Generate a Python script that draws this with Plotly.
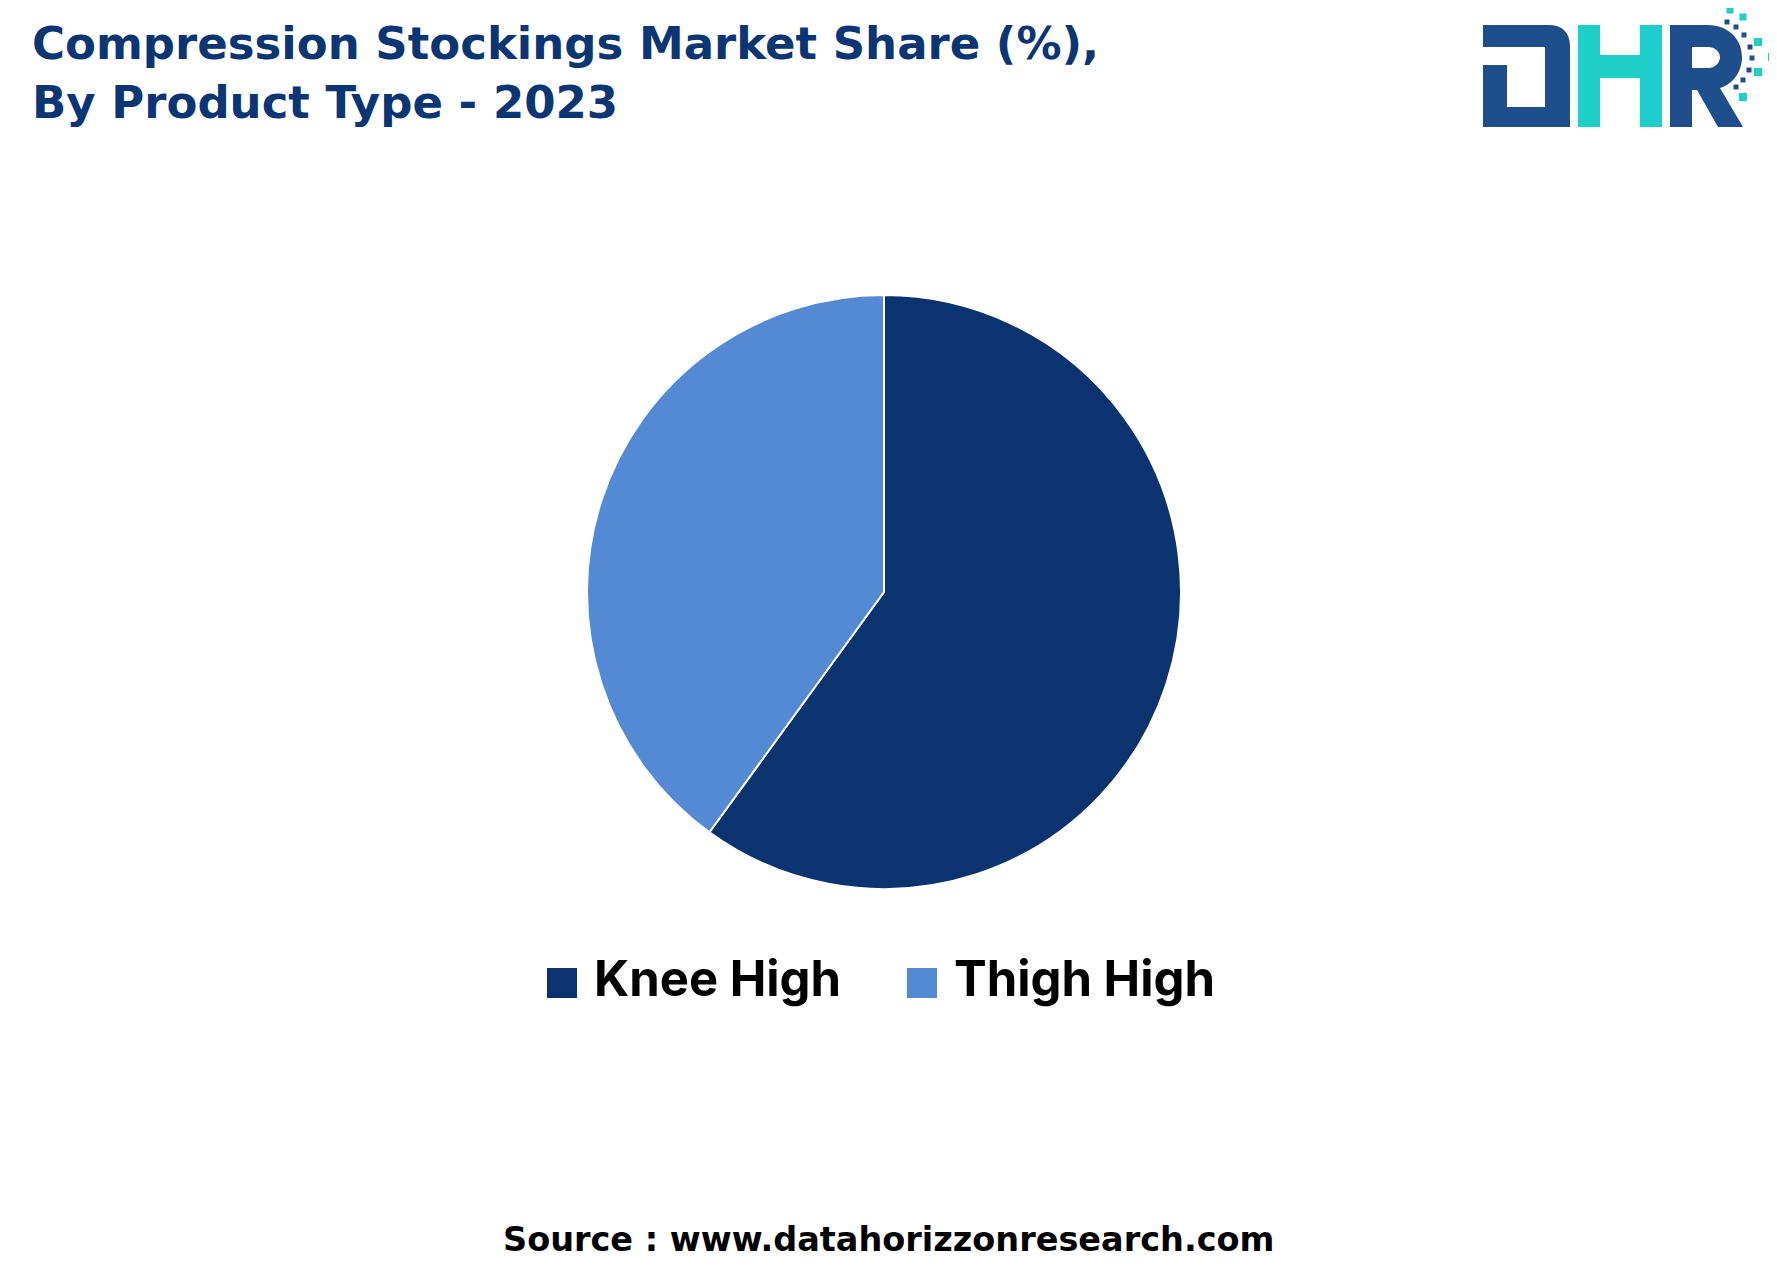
import plotly.graph_objects as go

W, H = 1777, 1284
OFF = 8  # page body margin offset

# ---- data ----
categories = ["Knee High", "Thigh High"]
shares = [60, 40]
colors = ["#0A3370", "#538AD3"]

title_text = "Compression Stockings Market Share (%),<br>By Product Type - 2023"
source_text = "Source : www.datahorizzonresearch.com"

FONT = "'DejaVu Sans', sans-serif"
LEG_FONT = "Inter, 'DejaVu Sans', sans-serif"


def px(x):
    return (x - OFF) / W


def py(y):
    return 1 - (y - OFF) / H


def path(cmds):
    out = []
    for c in cmds:
        op = c[0]
        v = c[1:]
        if op in ("M", "L"):
            out.append(f"{op}{px(v[0]):.5f},{py(v[1]):.5f}")
        elif op == "H":
            out.append(f"H{px(v[0]):.5f}")
        elif op == "V":
            out.append(f"V{py(v[0]):.5f}")
        elif op == "C":
            out.append("C" + " ".join(f"{px(v[i]):.5f},{py(v[i+1]):.5f}" for i in range(0, 6, 2)))
        elif op == "Q":
            out.append("Q" + " ".join(f"{px(v[i]):.5f},{py(v[i+1]):.5f}" for i in range(0, 4, 2)))
        elif op == "Z":
            out.append("Z")
    return " ".join(out)


cx, cy, r = 884, 592, 297

fig = go.Figure(
    go.Pie(
        labels=categories,
        values=shares,
        marker=dict(colors=colors, line=dict(color="white", width=2)),
        sort=False,
        direction="clockwise",
        rotation=0,
        textinfo="none",
        hoverinfo="label+percent",
        showlegend=False,
        domain=dict(x=[px(cx - r), px(cx + r)], y=[py(cy + r), py(cy - r)]),
    )
)

shapes = []
annotations = []

# custom legend (large square markers)
leg_y = 983
leg_items_x = [547, 907]
sq = 30
for i, (lab, col) in enumerate(zip(categories, colors)):
    x0 = leg_items_x[i]
    shapes.append(dict(type="rect", xref="paper", yref="paper",
                       x0=px(x0), x1=px(x0 + sq), y0=py(leg_y + sq / 2), y1=py(leg_y - sq / 2),
                       fillcolor=col, line=dict(width=0)))
    annotations.append(dict(text=f"<b>{lab}</b>", xref="paper", yref="paper",
                            x=px(x0 + sq + 15), y=py(leg_y - 5), xanchor="left", yanchor="middle",
                            showarrow=False, font=dict(family=LEG_FONT, size=49, color="#000000")))

# title
annotations.append(dict(text=f"<b>{title_text}</b>", xref="paper", yref="paper",
                        x=px(30), y=py(15), xanchor="left", yanchor="top", align="left",
                        showarrow=False, font=dict(family=FONT, size=45, color="#0B3573")))

# source
annotations.append(dict(text=f"<b>{source_text}</b>", xref="paper", yref="paper",
                        x=px(888), y=py(1239), xanchor="center", yanchor="middle",
                        showarrow=False, font=dict(family=FONT, size=33.5, color="#000000")))

# ---- DHR logo ----
navy = "#1F4E8C"
teal = "#1ECFC9"
D_path = [("M", 1483, 25), ("H", 1548), ("Q", 1570, 25, 1570, 47), ("V", 127), ("H", 1483),
          ("V", 65), ("H", 1507), ("V", 107), ("H", 1545), ("V", 47), ("H", 1483), ("Z",)]
H_path = [("M", 1578, 25), ("H", 1600), ("V", 55), ("H", 1640), ("V", 25), ("H", 1662),
          ("V", 127), ("H", 1640), ("V", 78), ("H", 1600), ("V", 127), ("H", 1578), ("Z",)]
R_path = [("M", 1670, 25), ("H", 1708), ("C", 1728, 25, 1742, 39, 1742, 57),
          ("C", 1742, 72, 1733, 84, 1720, 88), ("L", 1743, 127), ("H", 1718), ("L", 1697, 90),
          ("H", 1692), ("V", 127), ("H", 1670), ("Z",),
          ("M", 1692, 47), ("H", 1708), ("C", 1715, 47, 1720, 52, 1720, 57),
          ("C", 1720, 63, 1715, 68, 1708, 68), ("H", 1692), ("Z",)]
for p, c in [(D_path, navy), (H_path, teal), (R_path, navy)]:
    shapes.append(dict(type="path", xref="paper", yref="paper", path=path(p),
                       fillcolor=c, line=dict(width=0), layer="above"))

dots = [
    (1730, 10, 7, teal), (1743, 17, 7, teal), (1758, 42, 8, teal), (1772, 57, 8, teal),
    (1758, 72, 8, teal), (1743, 97, 8, teal),
    (1727, 22, 5, navy), (1736, 27, 5, navy), (1744, 35, 5, navy), (1750, 47, 5, navy),
    (1752, 58, 5, navy), (1749, 70, 5, navy), (1743, 80, 5, navy), (1736, 87, 5, navy),
]
for x, y, s, c in dots:
    shapes.append(dict(type="rect", xref="paper", yref="paper",
                       x0=px(x - s / 2), x1=px(x + s / 2), y0=py(y + s / 2), y1=py(y - s / 2),
                       fillcolor=c, line=dict(width=0)))

fig.update_layout(
    width=W, height=H,
    margin=dict(l=0, r=0, t=0, b=0),
    paper_bgcolor="white",
    plot_bgcolor="white",
    showlegend=False,
    shapes=shapes,
    annotations=annotations,
)

fig.write_html("out.html")
